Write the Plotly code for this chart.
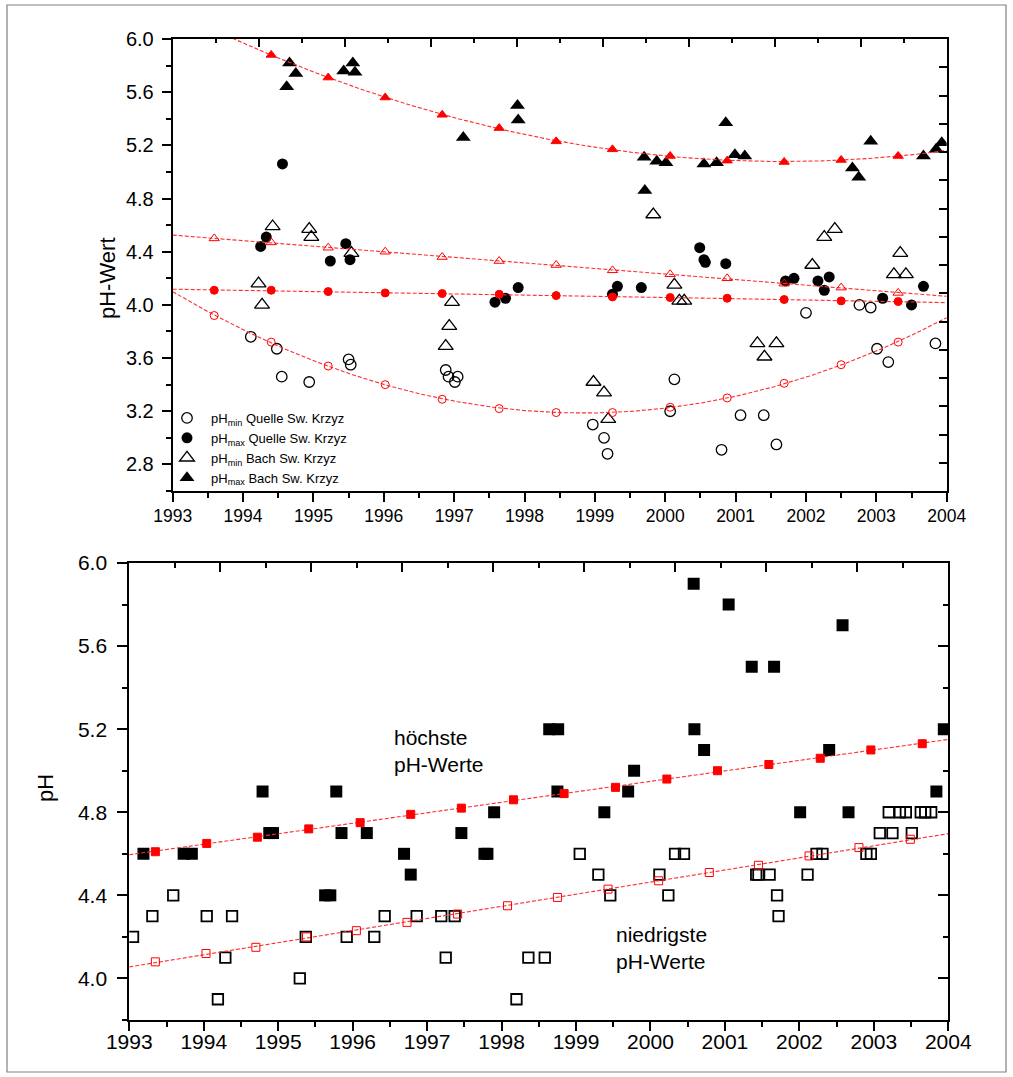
import numpy as np
import plotly.graph_objects as go

# ---------------- top chart: Quelle / Bach Sw. Krzyz ----------------
q_min_year = [1994.11, 1994.48, 1994.55, 1994.94, 1995.50, 1995.53, 1996.88, 1996.92, 1997.01, 1997.05,
              1998.97, 1999.13, 1999.18, 2000.07, 2000.13, 2000.80, 2001.07, 2001.40, 2001.58, 2002.00,
              2002.76, 2002.92, 2003.01, 2003.17, 2003.84]
q_min_ph = [3.76, 3.67, 3.46, 3.42, 3.59, 3.55, 3.51, 3.46, 3.42, 3.46,
            3.10, 3.00, 2.88, 3.20, 3.44, 2.91, 3.17, 3.17, 2.95, 3.94,
            4.00, 3.98, 3.67, 3.57, 3.71]

q_max_year = [1994.25, 1994.33, 1994.56, 1995.24, 1995.46, 1995.52, 1997.58, 1997.73, 1997.91, 1999.25,
              1999.32, 1999.66, 2000.49, 2000.55, 2000.57, 2000.86, 2001.71, 2001.83, 2002.17, 2002.26,
              2002.33, 2003.09, 2003.50, 2003.67]
q_max_ph = [4.44, 4.51, 5.06, 4.33, 4.46, 4.34, 4.02, 4.05, 4.13, 4.08,
            4.14, 4.13, 4.43, 4.34, 4.32, 4.31, 4.18, 4.20, 4.18, 4.11,
            4.21, 4.05, 4.00, 4.14]

b_min_year = [1994.22, 1994.27, 1994.42, 1994.94, 1994.97, 1995.54, 1996.88, 1996.93, 1996.97, 1998.98,
              1999.13, 1999.19, 1999.83, 2000.13, 2000.20, 2000.27, 2001.31, 2001.41, 2001.58, 2002.09,
              2002.26, 2002.41, 2003.25, 2003.34, 2003.42]
b_min_ph = [4.16, 4.00, 4.59, 4.57, 4.51, 4.39, 3.69, 3.84, 4.02, 3.42,
            3.34, 3.14, 4.68, 4.15, 4.03, 4.03, 3.71, 3.61, 3.71, 4.30,
            4.51, 4.57, 4.23, 4.39, 4.23]

b_max_year = [1994.62, 1994.66, 1994.75, 1995.43, 1995.56, 1995.59, 1997.13, 1997.90, 1997.91, 1999.70,
              1999.71, 1999.88, 2000.01, 2000.55, 2000.73, 2000.86, 2000.99, 2001.13, 2002.66, 2002.75,
              2002.92, 2003.67, 2003.85, 2003.93]
b_max_ph = [5.64, 5.82, 5.74, 5.76, 5.82, 5.75, 5.26, 5.50, 5.39, 5.11,
            4.86, 5.08, 5.07, 5.06, 5.07, 5.37, 5.13, 5.12, 5.03, 4.96,
            5.23, 5.12, 5.17, 5.22]

# fitted (trend) values shown as red markers
fit_year_top = [1993.59, 1994.40, 1995.21, 1996.02, 1996.83, 1997.64, 1998.45,
                1999.25, 2000.07, 2000.88, 2001.69, 2002.50, 2003.31]
q_min_fit = [3.92, 3.72, 3.54, 3.40, 3.29, 3.22, 3.19, 3.19, 3.23, 3.30, 3.41, 3.55, 3.72]
q_max_fit = [4.11, 4.11, 4.10, 4.09, 4.085, 4.08, 4.07, 4.06, 4.055, 4.05, 4.04, 4.03, 4.025]
b_min_fit = [4.50, 4.47, 4.43, 4.40, 4.36, 4.33, 4.30, 4.26, 4.23, 4.20, 4.16, 4.13, 4.09]
b_max_fit_year = fit_year_top[1:]
b_max_fit = [5.88, 5.71, 5.56, 5.43, 5.33, 5.23, 5.17, 5.12, 5.085, 5.075, 5.09, 5.12]

# ---------------- bottom chart: höchste / niedrigste pH-Werte ----------------
hi_year = [1993.19, 1993.73, 1993.84, 1994.79, 1994.88, 1994.93, 1995.63, 1995.70, 1995.78, 1995.85,
           1996.19, 1996.69, 1996.78, 1997.46, 1997.77, 1997.81, 1997.90, 1998.64, 1998.76, 1998.75,
           1999.38, 1999.70, 1999.78, 2000.58, 2000.59, 2000.72, 2001.05, 2001.36, 2001.66, 2002.01,
           2002.40, 2002.58, 2002.66, 2003.84, 2003.94]
hi_ph = [4.6, 4.6, 4.6, 4.9, 4.7, 4.7, 4.4, 4.4, 4.9, 4.7,
         4.7, 4.6, 4.5, 4.7, 4.6, 4.6, 4.8, 5.2, 5.2, 4.9,
         4.8, 4.9, 5.0, 5.9, 5.2, 5.1, 5.8, 5.5, 5.5, 4.8,
         5.1, 5.7, 4.8, 4.9, 5.2]

lo_year = [1993.05, 1993.31, 1993.59, 1994.04, 1994.19, 1994.29, 1994.38, 1995.29, 1995.37, 1995.92,
           1996.29, 1996.43, 1996.86, 1997.19, 1997.25, 1997.37, 1998.20, 1998.36, 1998.58, 1999.05,
           1999.30, 1999.46, 2000.12, 2000.24, 2000.33, 2000.45, 2001.42, 2001.45, 2001.60, 2001.70,
           2001.72, 2002.11, 2002.23, 2002.31, 2002.90, 2002.96, 2003.08, 2003.20, 2003.25, 2003.35,
           2003.43, 2003.51, 2003.63, 2003.69, 2003.77]
lo_ph = [4.2, 4.3, 4.4, 4.3, 3.9, 4.1, 4.3, 4.0, 4.2, 4.2,
         4.2, 4.3, 4.3, 4.3, 4.1, 4.3, 3.9, 4.1, 4.1, 4.6,
         4.5, 4.4, 4.5, 4.4, 4.6, 4.6, 4.5, 4.5, 4.5, 4.4,
         4.3, 4.5, 4.6, 4.6, 4.6, 4.6, 4.7, 4.8, 4.7, 4.8,
         4.8, 4.7, 4.8, 4.8, 4.8]

hi_fit_year = [1993.35, 1994.04, 1994.72, 1995.41, 1996.10, 1996.78, 1997.46, 1998.16,
               1998.84, 1999.53, 2000.22, 2000.90, 2001.59, 2002.28, 2002.96, 2003.65]
hi_fit = [4.61, 4.65, 4.68, 4.72, 4.75, 4.79, 4.82, 4.86, 4.89, 4.92, 4.96, 5.00, 5.03, 5.06, 5.10, 5.13]
lo_fit_year = [1993.35, 1994.03, 1994.70, 1995.38, 1996.05, 1996.73, 1997.41, 1998.08,
               1998.75, 1999.43, 2000.11, 2000.79, 2001.45, 2002.13, 2002.80, 2003.49]
lo_fit = [4.08, 4.12, 4.15, 4.20, 4.23, 4.27, 4.31, 4.35, 4.39, 4.43, 4.47, 4.51, 4.545, 4.59, 4.63, 4.67]

YEAR_MIN, YEAR_MAX = 1993, 2004
FONT = "Arial, Liberation Sans, sans-serif"
RED = "rgb(255,0,0)"
RED_LINE = "rgb(255,45,45)"


def trend(xs, ys, deg):
    c = np.polyfit(xs, ys, deg)
    xx = np.linspace(YEAR_MIN, YEAR_MAX, 300)
    return xx, np.polyval(c, xx)


fig = go.Figure()

# ---- top chart black series (legend) ----
fig.add_trace(go.Scatter(x=q_min_year, y=q_min_ph, mode="markers", xaxis="x", yaxis="y",
                         name="pH<sub>min</sub> Quelle Sw. Krzyz",
                         marker=dict(symbol="circle-open", size=10.5, color="black", line=dict(width=1.3))))
fig.add_trace(go.Scatter(x=q_max_year, y=q_max_ph, mode="markers", xaxis="x", yaxis="y",
                         name="pH<sub>max</sub> Quelle Sw. Krzyz",
                         marker=dict(symbol="circle", size=11, color="black")))
fig.add_trace(go.Scatter(x=b_min_year, y=b_min_ph, mode="markers", xaxis="x", yaxis="y",
                         name="pH<sub>min</sub> Bach Sw. Krzyz",
                         marker=dict(symbol="triangle-up-open", size=13, color="black", line=dict(width=1.3))))
fig.add_trace(go.Scatter(x=b_max_year, y=b_max_ph, mode="markers", xaxis="x", yaxis="y",
                         name="pH<sub>max</sub> Bach Sw. Krzyz",
                         marker=dict(symbol="triangle-up", size=13, color="black")))

# ---- top chart trends ----
top_fits = [
    (fit_year_top, q_min_fit, "circle-open", 8),
    (fit_year_top, q_max_fit, "circle", 8),
    (fit_year_top, b_min_fit, "triangle-up-open", 9),
    (b_max_fit_year, b_max_fit, "triangle-up", 9),
]
for fx, fy, sym, sz in top_fits:
    xx, yy = trend(fx, fy, 2)
    fig.add_trace(go.Scatter(x=xx, y=yy, mode="lines", xaxis="x", yaxis="y", showlegend=False,
                             hoverinfo="skip", line=dict(color=RED_LINE, width=1.1, dash="4px,2px")))
    fig.add_trace(go.Scatter(x=fx, y=fy, mode="markers", xaxis="x", yaxis="y", showlegend=False,
                             marker=dict(symbol=sym, size=sz, color=RED, line=dict(width=1, color=RED))))

# ---- bottom chart ----
fig.add_trace(go.Scatter(x=hi_year, y=hi_ph, mode="markers", xaxis="x3", yaxis="y3", showlegend=False,
                         name="höchste pH-Werte",
                         marker=dict(symbol="square", size=12, color="black")))
fig.add_trace(go.Scatter(x=lo_year, y=lo_ph, mode="markers", xaxis="x3", yaxis="y3", showlegend=False,
                         name="niedrigste pH-Werte",
                         marker=dict(symbol="square-open", size=10.5, color="black", line=dict(width=1.8))))
for fx, fy, sym in [(hi_fit_year, hi_fit, "square"), (lo_fit_year, lo_fit, "square-open")]:
    xx, yy = trend(fx, fy, 1)
    fig.add_trace(go.Scatter(x=xx, y=yy, mode="lines", xaxis="x3", yaxis="y3", showlegend=False,
                             hoverinfo="skip", line=dict(color=RED_LINE, width=1.1, dash="4px,2px")))
    fig.add_trace(go.Scatter(x=fx, y=fy, mode="markers", xaxis="x3", yaxis="y3", showlegend=False,
                             marker=dict(symbol=sym, size=8, color=RED, line=dict(width=1, color=RED))))

# empty traces so that the mirror (top / right) tick axes exist
for xa, ya in [("x2", "y2"), ("x4", "y4")]:
    fig.add_trace(go.Scatter(x=[], y=[], xaxis=xa, yaxis=ya, showlegend=False, hoverinfo="skip"))

W, H = 1013, 1077
top_x = [172.7 / W, 946.7 / W]
top_y = [1 - 491 / H, 1 - 39 / H]
bot_x = [129.3 / W, 948.3 / W]
bot_y = [1 - 1020 / H, 1 - 563 / H]

common = dict(showgrid=False, zeroline=False, showline=True, linecolor="black", linewidth=2,
              tickcolor="black", tickwidth=1.5, fixedrange=True, automargin=False)

fig.update_layout(
    width=W, height=H, margin=dict(l=0, r=0, t=0, b=0, pad=0, autoexpand=False),
    paper_bgcolor="white", plot_bgcolor="rgba(0,0,0,0)",
    font=dict(family=FONT, color="black"),
    showlegend=True,
    legend=dict(x=163 / W, y=1 - 403 / H, xanchor="left", yanchor="top",
                bgcolor="rgba(0,0,0,0)", font=dict(size=13, family=FONT), tracegroupgap=0,
                itemwidth=38),
    xaxis=dict(domain=top_x, anchor="y", range=[YEAR_MIN, YEAR_MAX], dtick=1, tick0=1993,
               ticks="outside", ticklen=9, minor=dict(dtick=0.5, ticklen=5, ticks="outside", tickcolor="black"),
               tickfont=dict(size=17.5), ticklabelstandoff=-1, **common),
    yaxis=dict(domain=top_y, anchor="x", range=[2.6, 6.0], tick0=2.8, dtick=0.4, tickformat=".1f",
               ticks="outside", ticklen=9, minor=dict(dtick=0.2, tick0=2.6, ticklen=5, ticks="outside", tickcolor="black"),
               tickfont=dict(size=20), ticklabelstandoff=4, **common),
    xaxis2=dict(overlaying="x", side="top", anchor="y", range=[0, 18], dtick=2, tick0=0,
                ticks="inside", ticklen=8, minor=dict(dtick=1, ticklen=4, ticks="inside", tickcolor="black"),
                showticklabels=False, **common),
    yaxis2=dict(overlaying="y", side="right", anchor="x", range=[0, 16], dtick=1, tick0=0,
                ticks="inside", ticklen=8, showticklabels=False, **common),
    xaxis3=dict(domain=bot_x, anchor="y3", range=[YEAR_MIN, YEAR_MAX], dtick=1, tick0=1993,
                ticks="outside", ticklen=9, minor=dict(dtick=0.5, ticklen=5, ticks="outside", tickcolor="black"),
                tickfont=dict(size=21), ticklabelstandoff=-7, **common),
    yaxis3=dict(domain=bot_y, anchor="x3", range=[3.8, 6.0], tick0=4.0, dtick=0.4, tickformat=".1f",
                ticks="outside", ticklen=10, minor=dict(dtick=0.2, tick0=3.8, ticklen=5, ticks="outside", tickcolor="black"),
                tickfont=dict(size=21), ticklabelstandoff=6, **common),
    xaxis4=dict(overlaying="x3", side="top", anchor="y3", range=[0, 18], dtick=2, tick0=0,
                ticks="inside", ticklen=9, minor=dict(dtick=1, ticklen=5, ticks="inside", tickcolor="black"),
                showticklabels=False, **common),
    yaxis4=dict(overlaying="y3", side="right", anchor="x3", range=[3.8, 6.0], tick0=4.0, dtick=0.4,
                ticks="inside", ticklen=10, minor=dict(dtick=0.2, tick0=3.8, ticklen=5, ticks="inside", tickcolor="black"),
                showticklabels=False, **common),
    annotations=[
        dict(text="pH-Wert", x=108 / W, y=1 - 278 / H, xref="paper", yref="paper", showarrow=False,
             xanchor="center", yanchor="middle", textangle=-90, font=dict(size=22)),
        dict(text="pH", x=45 / W, y=1 - 788 / H, xref="paper", yref="paper", showarrow=False,
             xanchor="center", yanchor="middle", textangle=-90, font=dict(size=22)),
        dict(text="höchste<br>pH-Werte", x=392 / W, y=1 - 751 / H, xref="paper", yref="paper",
             showarrow=False, xanchor="left", yanchor="middle", align="left", font=dict(size=21)),
        dict(text="niedrigste<br>pH-Werte", x=614 / W, y=1 - 948 / H, xref="paper", yref="paper",
             showarrow=False, xanchor="left", yanchor="middle", align="left", font=dict(size=21)),
    ],
    shapes=[dict(type="rect", xref="paper", yref="paper", x0=7 / W, x1=1006 / W,
                 y0=1 - 1072 / H, y1=1 - 5 / H, line=dict(color="rgb(128,128,128)", width=1.2))],
)

fig.write_html("out.html", post_script="document.body.style.margin='0px';",
               config={"displayModeBar": False})
